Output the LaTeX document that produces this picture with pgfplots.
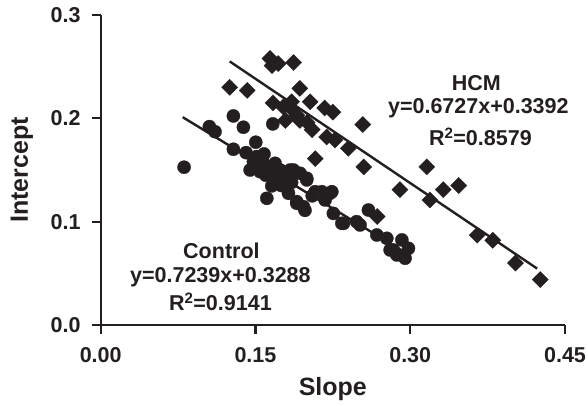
\documentclass[border=0pt]{standalone}
\usepackage{fontspec}
\setmainfont{Liberation Sans}
\usepackage{pgfplots}
\pgfplotsset{compat=1.18}
\definecolor{ink}{HTML}{231F20}
\begin{document}
\begin{tikzpicture}
\begin{axis}[
  at={(0pt,0pt)}, anchor=origin,
  scale only axis, width=464.3pt, height=310pt,
  xmin=0, xmax=0.45, ymin=0, ymax=0.3,
  axis lines*=left,
  axis line style={line width=2.2pt, color=ink},
  tick align=outside,
  major tick length=9pt,
  tick style={line width=2.2pt, color=ink},
  xtick={0,0.15,0.3,0.45},
  xticklabels={0.00,0.15,0.30,0.45},
  ytick={0,0.1,0.2,0.3},
  yticklabels={0.0,0.1,0.2,0.3},
  tick label style={font=\fontsize{21.5}{22}\selectfont\bfseries, text=ink},
  xticklabel style={anchor=north, inner sep=0pt, yshift=-13pt},
  yticklabel style={anchor=east, inner sep=0pt, xshift=-11pt},
  xlabel={Slope}, ylabel={Intercept},
  label style={font=\fontsize{25}{26}\selectfont\bfseries, text=ink},
  xlabel style={at={(axis description cs:0.5,-0.229)}, anchor=base, inner sep=0pt},
  ylabel style={at={(axis description cs:-0.1566,0.5)}, anchor=base, rotate=0, inner sep=0pt},
  clip=false,
]
% regression lines
\addplot[ink, line width=2.4pt] coordinates {(0.125,0.2551) (0.423,0.0546)};
\addplot[ink, line width=2.4pt] coordinates {(0.0795,0.2011) (0.297,0.069)};
% HCM
\addplot[only marks, mark=square*, mark size=5.7pt, mark options={rotate=45, fill=ink, draw=ink, line width=0.3pt}] table {
x y
0.164 0.258
0.166 0.251
0.172 0.253
0.187 0.254
0.125 0.230
0.142 0.227
0.193 0.229
0.167 0.215
0.203 0.216
0.185 0.216
0.184 0.210
0.190 0.203
0.217 0.210
0.225 0.206
0.179 0.198
0.200 0.196
0.205 0.189
0.219 0.182
0.208 0.161
0.254 0.194
0.227 0.179
0.240 0.171
0.255 0.153
0.316 0.153
0.290 0.131
0.319 0.121
0.332 0.131
0.347 0.135
0.365 0.087
0.380 0.082
0.402 0.060
0.426 0.044
0.177 0.211
0.193 0.198
0.268 0.105
};
% Control
\addplot[only marks, mark=*, mark size=6.6pt, mark options={fill=ink, draw=ink, line width=0.3pt}] table {
x y
0.1286 0.2023
0.1383 0.1914
0.1053 0.1920
0.1108 0.1871
0.1668 0.1946
0.1503 0.1769
0.1286 0.1701
0.1409 0.1668
0.1583 0.1655
0.0808 0.1527
0.1480 0.1580
0.1448 0.1500
0.1690 0.1565
0.1545 0.1484
0.1640 0.1468
0.1740 0.1500
0.1868 0.1500
0.1933 0.1468
0.1997 0.1420
0.1658 0.1346
0.1610 0.1226
0.1820 0.1275
0.1900 0.1194
0.1965 0.1145
0.1770 0.1400
0.1513 0.1630
0.1836 0.1500
0.1997 0.1404
0.1900 0.1178
0.1980 0.1110
0.2078 0.1290
0.2143 0.1290
0.2240 0.1290
0.2175 0.1210
0.2255 0.1080
0.2353 0.0984
0.2480 0.1000
0.2514 0.0968
0.2595 0.1113
0.2676 0.0871
0.2773 0.0839
0.2805 0.0726
0.2919 0.0823
0.2983 0.0742
0.2870 0.0678
0.2950 0.0646
0.2837 0.0726
0.2223 0.1275
0.2337 0.0984
0.1550 0.1560
0.1600 0.1500
0.1700 0.1420
0.1800 0.1440
0.1600 0.1450
0.1750 0.1350
0.1850 0.1380
0.2050 0.1250
0.1570 0.1580
};
\node[font=\fontsize{21.5}{22}\selectfont\bfseries, text=ink] at (axis cs:0.364,0.234) {HCM};
\node[font=\fontsize{21.5}{22}\selectfont\bfseries, text=ink] at (axis cs:0.366,0.210) {y=0.6727x+0.3392};
\node[font=\fontsize{21.5}{22}\selectfont\bfseries, text=ink] at (axis cs:0.368,0.182) {R\textsuperscript{2}=0.8579};
\node[font=\fontsize{21.5}{22}\selectfont\bfseries, text=ink] at (axis cs:0.117,0.0716) {Control};
\node[font=\fontsize{21.5}{22}\selectfont\bfseries, text=ink] at (axis cs:0.116,0.0465) {y=0.7239x+0.3288};
\node[font=\fontsize{21.5}{22}\selectfont\bfseries, text=ink] at (axis cs:0.116,0.0223) {R\textsuperscript{2}=0.9141};
\end{axis}
\pgfresetboundingbox
\useasboundingbox (-100.7pt,-80pt) rectangle (487.3pt,325pt);
\end{tikzpicture}
\end{document}
